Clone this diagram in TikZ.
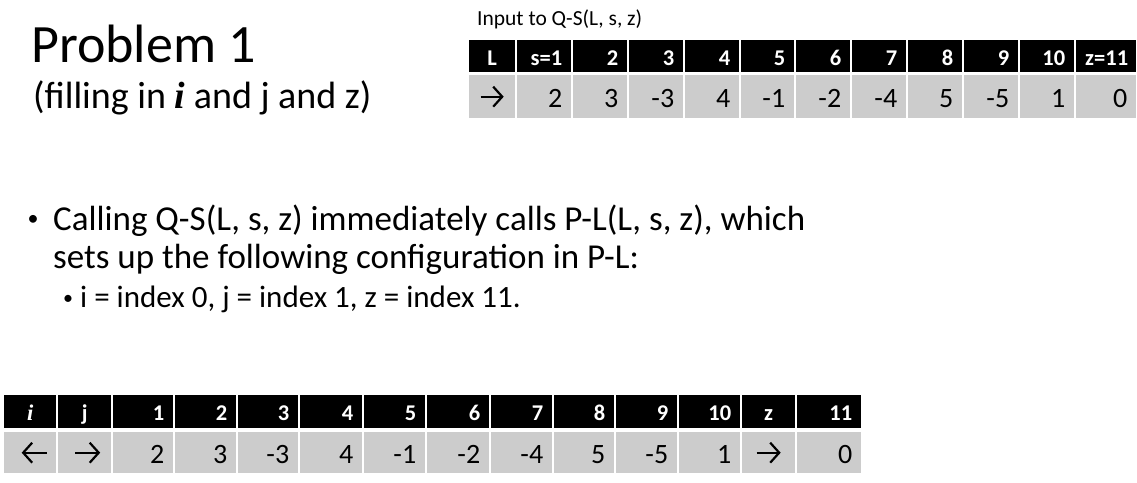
\documentclass[tikz,border=0pt]{standalone}
\usepackage{fontspec}
\usetikzlibrary{arrows.meta}
\setmainfont{Carlito}
\newfontfamily\serifi{Liberation Serif}
\definecolor{cellgray}{RGB}{204,204,204}
\newcommand{\boldi}{{\serifi\bfseries\itshape i}}
\tikzset{
  hdr/.style={fill=black, text=white, font=\fontsize{22.5}{24}\selectfont\bfseries,
    anchor=north west, inner xsep=9pt, inner ysep=0pt, text height=19pt, text depth=0.5pt},
  val/.style={fill=cellgray, text=black, font=\fontsize{28}{30}\selectfont,
    anchor=north west, inner xsep=9pt, inner ysep=0pt, text height=22pt, text depth=0pt},
  txt/.style={anchor=base west, inner sep=0pt},
  glyph/.style={line width=2.2pt, -{Straight Barb[length=9pt, width=20pt, line width=2.2pt]}},
}
\begin{document}
\begin{tikzpicture}[x=1pt,y=-1pt]
  \useasboundingbox (0,0) rectangle (1137,482);
  % titles
  \node[txt, font=\fontsize{54}{60}\selectfont] (title) at (31,62) {Problem 1};
  \node[txt, font=\fontsize{38}{40}\selectfont] (subtitle) at (33,108)
    {(filling in \boldi\ and j and z)};
  \node[txt, font=\fontsize{21.5}{24}\selectfont] (input) at (477,25) {Input to Q-S(L, s, z)};
  % input table
  \foreach \l/\r/\h/\v/\a [count=\k] in {468/516/L//center, 516/572/s=1/2/right,
      572/628/2/3/right, 628/684/3/-3/right, 684/740/4/4/right, 740/795/5/-1/right,
      795/851/6/-2/right, 851/907/7/-4/right, 907/963/8/5/right, 963/1019/9/-5/right,
      1019/1075/10/1/right, 1075/1137/z=11/0/right} {
    \pgfmathsetmacro\w{\r-\l-2}
    \pgfmathsetmacro\tw{\r-\l-20}
    \node[hdr, minimum width=\w pt, text width=\tw pt, minimum height=32pt, align=\a]
      (th\k) at (\l+1,40) {\h};
    \node[val, minimum width=\w pt, text width=\tw pt, minimum height=43pt, align=\a]
      (tv\k) at (\l+1,75) {\v};
  }
  \draw[glyph] ([xshift=-11.5pt]tv1.center) -- ([xshift=11.5pt]tv1.center);
  % bullets
  \node[font=\fontsize{22}{24}\selectfont, inner sep=0pt] (b1) at (33,220) {\textbullet};
  \node[txt, font=\fontsize{35}{40}\selectfont] (l1) at (53,230)
    {Calling Q-S(L, s, z) immediately calls P-L(L, s, z), which};
  \node[txt, font=\fontsize{35}{40}\selectfont] (l2) at (53,268)
    {sets up the following configuration in P-L:};
  \node[font=\fontsize{20}{22}\selectfont, inner sep=0pt] (b2) at (68,300) {\textbullet};
  \node[txt, font=\fontsize{31}{34}\selectfont] (l3) at (80,307)
    {i = index 0, j = index 1, z = index 11.};
  % P-L table
  \foreach \l/\r/\h/\v/\a [count=\k] in {3/57/\boldi//center, 57/112/j//center,
      112/174/1/2/right, 174/237/2/3/right, 237/299/3/-3/right, 299/363/4/4/right,
      363/426/5/-1/right, 426/490/6/-2/right, 490/553/7/-4/right, 553/615/8/5/right,
      615/678/9/-5/right, 678/741/10/1/right, 741/796/z//center, 796/862/11/0/right} {
    \pgfmathsetmacro\w{\r-\l-2}
    \pgfmathsetmacro\tw{\r-\l-20}
    \node[hdr, minimum width=\w pt, text width=\tw pt, minimum height=33pt, align=\a]
      (bh\k) at (\l+1,395) {\h};
    \node[val, minimum width=\w pt, text width=\tw pt, minimum height=41pt, align=\a]
      (bv\k) at (\l+1,432) {\v};
  }
  \draw[glyph] ([xshift=16.5pt]bv1.center) -- ([xshift=-8.5pt]bv1.center);
  \draw[glyph] ([xshift=-9.5pt]bv2.center) -- ([xshift=15.5pt]bv2.center);
  \draw[glyph] ([xshift=-12pt]bv13.center) -- ([xshift=12pt]bv13.center);
\end{tikzpicture}
\end{document}
